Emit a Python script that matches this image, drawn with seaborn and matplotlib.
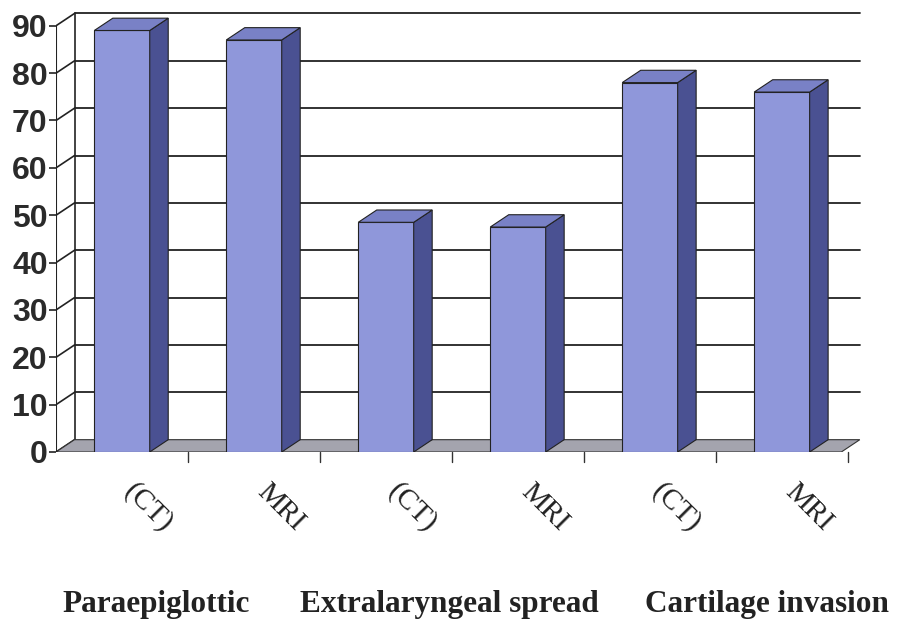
import numpy as np
import pandas as pd
import matplotlib
matplotlib.use("Agg")
import matplotlib.pyplot as plt
import matplotlib.transforms as mtransforms
from matplotlib.patches import Polygon
import seaborn as sns

# data
groups = ['Paraepiglottic', 'Extralaryngeal spread', 'Cartilage invasion']
modality = ['(CT)', 'MRI', '(CT)', 'MRI', '(CT)', 'MRI']
values = [89, 87, 48.5, 47.5, 78, 76]
yticks = [0, 10, 20, 30, 40, 50, 60, 70, 80, 90]

front = '#8f97da'
side = '#4a5192'
top = '#7981c6'
floor = '#a4a4ae'

df = pd.DataFrame({
    'slot': [f'{groups[i // 2]} {m}' for i, m in enumerate(modality)],
    'value': values,
})

sns.set_style('white')
fig = plt.figure(figsize=(8.98, 6.29), dpi=100)
ax = fig.add_axes([0.0624, 0.2814, 0.898, 0.704])

dx, dy = 0.14, 2.6   # fake depth of the 3d look
xmin, xmax = -0.5, 5.45

sns.barplot(data=df, x='slot', y='value', color=front, width=0.42,
            saturation=1, edgecolor='#222222', linewidth=0.8, ax=ax, zorder=4)

# top and side faces from each bar's geometry
for p in ax.patches:
    x0, w, h = p.get_x(), p.get_width(), p.get_height()
    x1 = x0 + w
    ax.add_patch(Polygon([(x1, 0), (x1 + dx, dy), (x1 + dx, h + dy), (x1, h)],
                         closed=True, fc=side, ec='#222222', lw=0.8, zorder=4))
    ax.add_patch(Polygon([(x0, h), (x1, h), (x1 + dx, h + dy), (x0 + dx, h + dy)],
                         closed=True, fc=top, ec='#222222', lw=0.8, zorder=4))

# floor
ax.add_patch(Polygon([(xmin, 0), (xmax, 0), (xmax + dx, dy), (xmin + dx, dy)],
                     closed=True, fc=floor, ec='#333333', lw=0.8, zorder=2))

# back wall gridlines and connectors to the front axis
for t in yticks:
    if t > 0:
        ax.plot([xmin + dx, xmax + dx], [t + dy, t + dy], color='#222222', lw=1.3, zorder=1)
    ax.plot([xmin, xmin + dx], [t, t + dy], color='#222222', lw=1.2, zorder=1)
ax.plot([xmin + dx, xmin + dx], [dy, yticks[-1] + dy], color='#222222', lw=1.2, zorder=1)
ax.plot([xmin, xmin], [0, yticks[-1]], color='#222222', lw=1.5, zorder=3)

ax.set_xlim(xmin, xmax + dx + 0.02)
ax.set_ylim(0, 93.5)
for s in ax.spines.values():
    s.set_visible(False)

ax.set_yticks(yticks)
ax.set_yticklabels([str(t) for t in yticks], fontfamily='Liberation Sans',
                   fontweight='bold', fontsize=23, color='#2a2a2a')
ax.tick_params(axis='y', length=5, width=1.2, color='#222222', pad=1, left=True)

ax.set_xticks(range(len(modality)))
ax.set_xticklabels(modality, rotation=-45, ha='left', rotation_mode='anchor',
                   fontfamily='Liberation Serif', fontsize=21, color='#222222')
ax.tick_params(axis='x', length=0, pad=19)
shift = mtransforms.ScaledTranslation(0.16, 0, fig.dpi_scale_trans)
for lbl in ax.get_xticklabels():
    lbl.set_transform(lbl.get_transform() + shift)
for t in np.arange(0.5, len(modality), 1.0):
    ax.plot([t, t], [0, -2.2], color='#333333', lw=1, clip_on=False)

ax.set_xlabel('')
ax.set_ylabel('')

group_x = [0.26, 2.48, 4.89]
for gx, g in zip(group_x, groups):
    ax.text(gx, -0.345, g, transform=ax.get_xaxis_transform(), ha='center', va='center',
            fontfamily='Liberation Serif', fontweight='bold', fontsize=22.5, color='#222222')

fig.savefig('out.png', dpi=100, facecolor='white')
